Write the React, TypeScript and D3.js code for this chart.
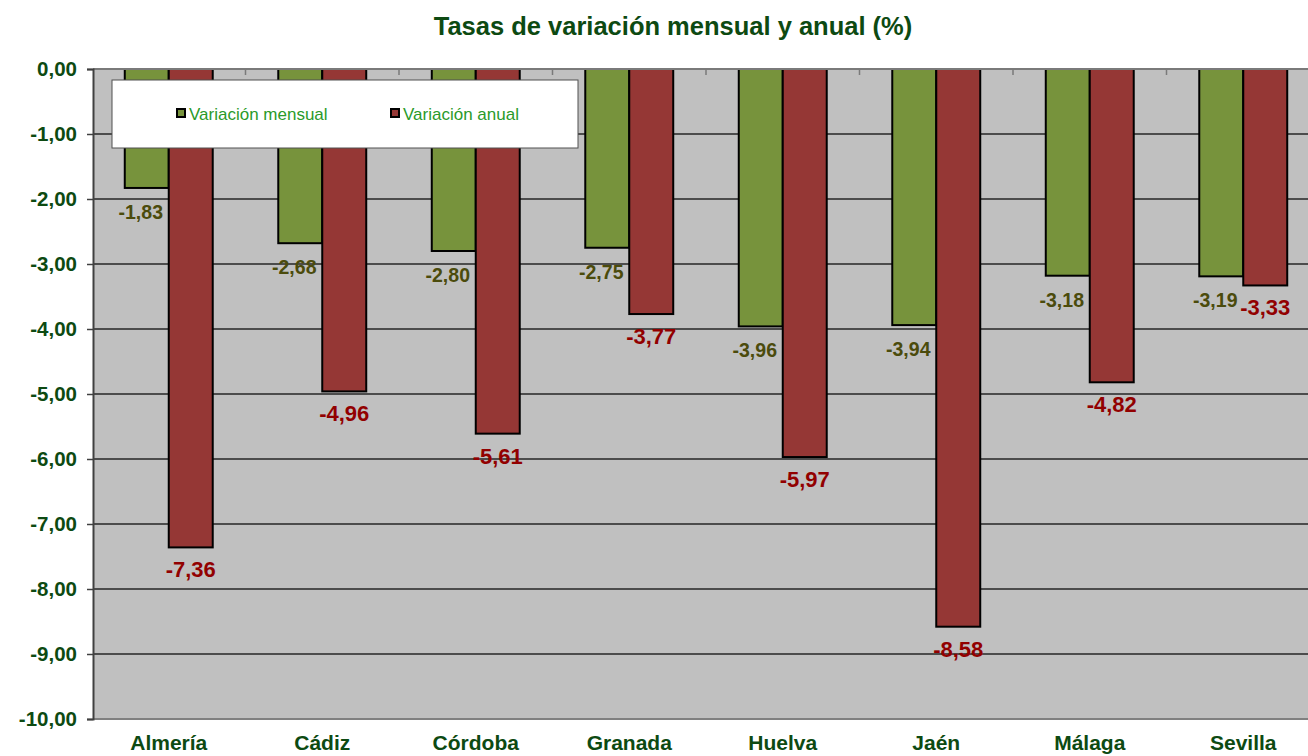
import { useEffect, useRef } from 'react';
import * as d3 from 'd3';

// ── Data ─────────────────────────────────────────────────────────────────────
const PROVINCES = ['Almería', 'Cádiz', 'Córdoba', 'Granada', 'Huelva', 'Jaén', 'Málaga', 'Sevilla'];
const SERIES = ['Variación mensual', 'Variación anual'];
const MENSUAL = [-1.83, -2.68, -2.80, -2.75, -3.96, -3.94, -3.18, -3.19];
const ANUAL = [-7.36, -4.96, -5.61, -3.77, -5.97, -8.58, -4.82, -3.33];
const Y_TICKS = [0, -1, -2, -3, -4, -5, -6, -7, -8, -9, -10];

const FILL = ['#77933c', '#953735'];
const LABEL_COLOR = ['#4b4b0c', '#920000'];
const DARK_GREEN = '#0d4a12';
const FONT = '"Liberation Sans", Arial, sans-serif';

const esLocale = d3.formatLocale({ decimal: ',', thousands: '.', grouping: [3], currency: ['', '€'], minus: '-' });
const fmt = esLocale.format('.2f');

export default function App() {
  const svgRef = useRef<SVGSVGElement>(null);
  const W = 1308, H = 756;
  const plot = { left: 93, top: 69, right: 1320, bottom: 719 };

  useEffect(() => {
    if (!svgRef.current) return;
    const svg = d3.select(svgRef.current);
    svg.selectAll('*').remove();

    const x0 = d3.scaleBand().domain(PROVINCES).range([plot.left - 1, plot.right]).paddingInner(0).paddingOuter(0);
    const x1 = d3.scaleBand().domain(SERIES).range([0, x0.bandwidth()]).paddingInner(0).paddingOuter(0.745);
    const y = d3.scaleLinear().domain([0, -10]).range([plot.top, plot.bottom]);

    // Plot background
    svg.append('rect')
      .attr('x', plot.left).attr('y', plot.top)
      .attr('width', plot.right - plot.left).attr('height', plot.bottom - plot.top)
      .attr('fill', '#c0c0c0');

    // Grid
    svg.selectAll('line.grid').data(Y_TICKS.filter(d => d !== 0 && d !== -10)).enter().append('line')
      .attr('x1', plot.left).attr('x2', plot.right)
      .attr('y1', d => y(d)).attr('y2', d => y(d))
      .attr('stroke', '#262626').attr('stroke-width', 1.3);
    svg.append('line')
      .attr('x1', plot.left).attr('x2', plot.right)
      .attr('y1', y(-10)).attr('y2', y(-10))
      .attr('stroke', '#808080').attr('stroke-width', 2);

    // Bars
    const vals = [MENSUAL, ANUAL];
    const rows = PROVINCES.flatMap((p, i) => SERIES.map((s, j) => ({ p, s, j, v: vals[j][i] })));
    svg.selectAll('rect.bar').data(rows).enter().append('rect')
      .attr('x', d => (x0(d.p) as number) + (x1(d.s) as number))
      .attr('y', y(0))
      .attr('width', x1.bandwidth())
      .attr('height', d => y(d.v) - y(0))
      .attr('fill', d => FILL[d.j])
      .attr('stroke', '#000').attr('stroke-width', 2);

    // Top axis (zero line) with category ticks
    svg.append('line')
      .attr('x1', plot.left).attr('x2', plot.right)
      .attr('y1', y(0)).attr('y2', y(0))
      .attr('stroke', '#7a7a7a').attr('stroke-width', 2);
    svg.selectAll('line.xtick').data(PROVINCES.slice(1)).enter().append('line')
      .attr('x1', d => x0(d) as number).attr('x2', d => x0(d) as number)
      .attr('y1', y(0)).attr('y2', y(0) + 6)
      .attr('stroke', '#7a7a7a').attr('stroke-width', 1.5);

    // Left axis
    const ay = svg.append('g').attr('transform', `translate(${plot.left},0)`)
      .call(d3.axisLeft(y).tickValues(Y_TICKS).tickFormat(d => fmt(d as number)).tickSize(6).tickPadding(10));
    ay.select('.domain').attr('stroke', '#404040').attr('stroke-width', 2);
    ay.selectAll('line').attr('stroke', '#404040').attr('stroke-width', 1.5);
    ay.selectAll('text')
      .attr('fill', DARK_GREEN).style('font-family', FONT).style('font-size', '20.5px').style('font-weight', 'bold');

    // Data labels
    svg.selectAll('text.lbl').data(rows).enter().append('text')
      .attr('x', d => (x0(d.p) as number) + (x1(d.s) as number) + x1.bandwidth() / 2 + (d.j === 0 ? -6 : 0))
      .attr('y', d => y(d.v) + (d.j === 0 ? 31 : 30))
      .attr('text-anchor', 'middle')
      .attr('fill', d => LABEL_COLOR[d.j])
      .style('font-family', FONT).style('font-weight', 'bold')
      .style('font-size', d => (d.j === 0 ? '19.5px' : '22px'))
      .text(d => fmt(d.v));

    // Category labels
    svg.selectAll('text.cat').data(PROVINCES).enter().append('text')
      .attr('x', d => (x0(d) as number) + x0.bandwidth() / 2)
      .attr('y', 750)
      .attr('text-anchor', 'middle')
      .attr('fill', DARK_GREEN)
      .style('font-family', FONT).style('font-size', '21px').style('font-weight', 'bold')
      .text(d => d);

    // Legend
    const lg = svg.append('g');
    lg.append('rect').attr('x', 112).attr('y', 80).attr('width', 466).attr('height', 68)
      .attr('fill', '#fff').attr('stroke', '#505050').attr('stroke-width', 1);
    const legendX = [177, 391];
    SERIES.forEach((s, j) => {
      lg.append('rect').attr('x', legendX[j]).attr('y', 109).attr('width', 8).attr('height', 8)
        .attr('fill', FILL[j]).attr('stroke', '#000').attr('stroke-width', 2);
      lg.append('text').attr('x', legendX[j] + 12).attr('y', 120)
        .attr('fill', '#2a9a2a')
        .style('font-family', FONT).style('font-size', '17px')
        .text(s);
    });

    // Title
    svg.append('text')
      .attr('x', 673).attr('y', 35)
      .attr('text-anchor', 'middle')
      .attr('fill', DARK_GREEN)
      .style('font-family', FONT).style('font-size', '25.5px').style('font-weight', 'bold')
      .text('Tasas de variación mensual y anual (%)');
  }, []);

  return (
    <svg ref={svgRef} width={W} height={H}
      style={{ position: 'absolute', left: 0, top: 0, display: 'block', background: '#fff' }} />
  );
}
